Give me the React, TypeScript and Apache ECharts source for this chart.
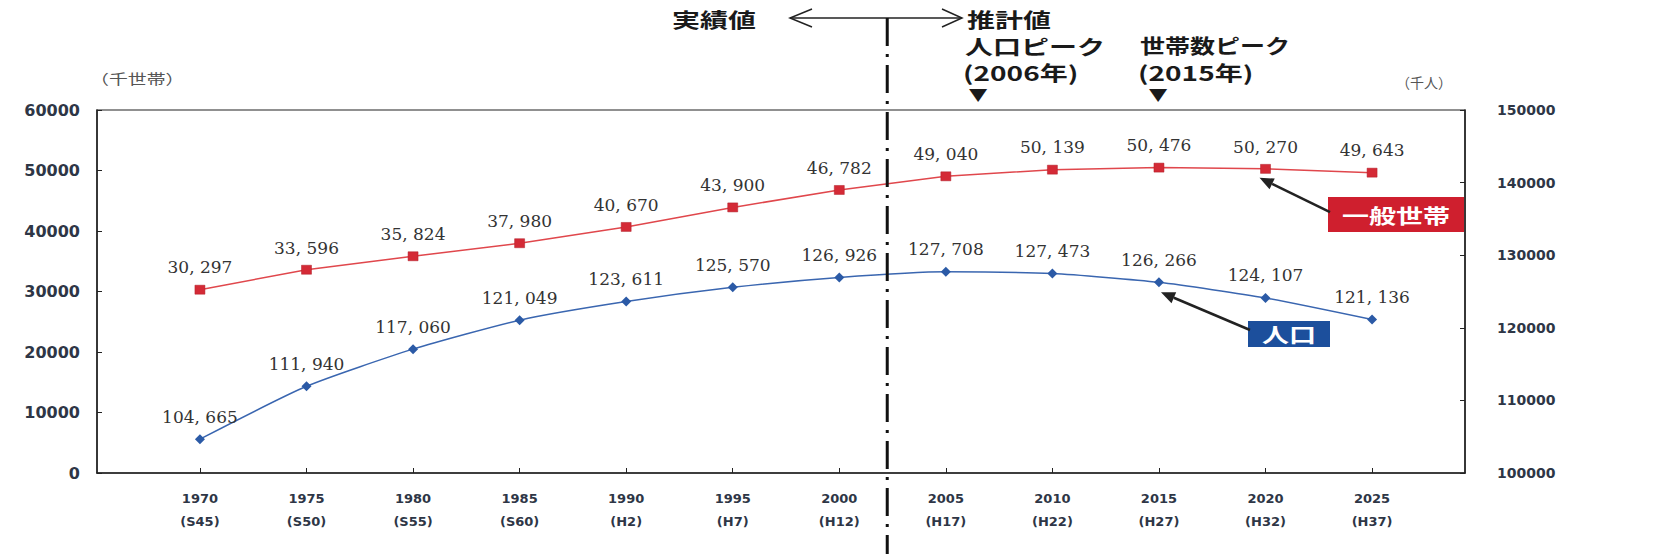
import React, { useEffect, useRef } from 'react';
import * as echarts from 'echarts';

const years = [1970, 1975, 1980, 1985, 1990, 1995, 2000, 2005, 2010, 2015, 2020, 2025];
const eraLabels = ['S45', 'S50', 'S55', 'S60', 'H2', 'H7', 'H12', 'H17', 'H22', 'H27', 'H32', 'H37'];
const households = [30297, 33596, 35824, 37980, 40670, 43900, 46782, 49040, 50139, 50476, 50270, 49643];
const population = [104665, 111940, 117060, 121049, 123611, 125570, 126926, 127708, 127473, 126266, 124107, 121136];
const leftAxisRange = { min: 0, max: 60000, interval: 10000 };
const rightAxisRange = { min: 100000, max: 150000, interval: 10000 };
const xRange = { min: 1965.17, max: 2029.36 };
const splitYear = 2002.25;

const CJK = '"Noto Sans CJK JP", "Noto Sans", sans-serif';
const AXIS_FONT = '"DejaVu Sans", Arial, sans-serif';
const SERIF = '"DejaVu Serif", "Liberation Serif", serif';

const fmt = (v: number) => `${Math.floor(v / 1000)}, ${String(v % 1000).padStart(3, '0')}`;

function arrow(tail: number[], tip: number[], color = '#222', headLen = 14, headW = 6) {
  const dx = tip[0] - tail[0];
  const dy = tip[1] - tail[1];
  const len = Math.sqrt(dx * dx + dy * dy);
  const ux = dx / len, uy = dy / len;
  const bx = tip[0] - ux * headLen, by = tip[1] - uy * headLen;
  const px = -uy, py = ux;
  return [
    { type: 'line', shape: { x1: tail[0], y1: tail[1], x2: bx, y2: by }, style: { stroke: color, lineWidth: 2.5 }, z: 100 },
    {
      type: 'polygon',
      shape: { points: [[tip[0], tip[1]], [bx + px * headW, by + py * headW], [bx - px * headW, by - py * headW]] },
      style: { fill: color }, z: 100,
    },
  ];
}

function txt(x: number, y: number, text: string, fontSize: number, opts: any = {}) {
  return {
    type: 'text', x, y, scaleX: opts.scaleX ?? 1.4, z: 100,
    style: {
      text, fontSize, fontWeight: opts.weight ?? 'bold', fontFamily: opts.family ?? CJK,
      fill: opts.fill ?? '#1a1a1a', textAlign: opts.align ?? 'left', textVerticalAlign: 'middle',
    },
  };
}

export default function App() {
  const ref = useRef<HTMLDivElement>(null);
  useEffect(() => {
    document.body.style.margin = '0';
    const chart = echarts.init(ref.current!, null, { renderer: 'svg' });
    const option: any = {
      animation: false,
      backgroundColor: '#ffffff',
      grid: { left: 97, right: 195, top: 110, bottom: 81, show: true, borderColor: '#222', borderWidth: 1.2, backgroundColor: 'transparent' },
      xAxis: {
        type: 'value', min: xRange.min, max: xRange.max,
        axisLine: { show: true, lineStyle: { color: '#222', width: 1.5 } },
        axisTick: { show: true, inside: true, length: 5, customValues: years, lineStyle: { color: '#222' } },
        splitLine: { show: false },
        axisLabel: {
          customValues: years, margin: 14, fontFamily: AXIS_FONT, fontWeight: 'bold', fontSize: 13, lineHeight: 23,
          color: '#2e3646',
          formatter: (v: number) => {
            const i = years.indexOf(Math.round(v));
            return i >= 0 ? `${years[i]}\n(${eraLabels[i]})` : '';
          },
        },
      },
      yAxis: [
        {
          type: 'value', position: 'left', ...leftAxisRange,
          axisLine: { show: true, lineStyle: { color: '#222', width: 1.5 } },
          axisTick: { show: true, inside: true, length: 5, lineStyle: { color: '#222' } },
          splitLine: { show: false },
          axisLabel: { margin: 17, fontFamily: AXIS_FONT, fontWeight: 'bold', fontSize: 16, color: '#2e3646', formatter: (v: number) => String(v) },
        },
        {
          type: 'value', position: 'right', ...rightAxisRange,
          axisLine: { show: true, lineStyle: { color: '#222', width: 1.5 } },
          axisTick: { show: true, inside: true, length: 5, lineStyle: { color: '#222' } },
          splitLine: { show: false },
          axisLabel: { margin: 32, fontFamily: AXIS_FONT, fontWeight: 'bold', fontSize: 14, color: '#2e3646', formatter: (v: number) => String(v) },
        },
      ],
      series: [
        {
          name: '一般世帯', type: 'line', yAxisIndex: 0,
          data: years.map((y, i) => [y, households[i]]),
          symbol: 'rect', symbolSize: [10, 9],
          lineStyle: { color: '#e0474c', width: 1.5 },
          itemStyle: { color: '#d42a36', borderColor: '#b01e28', borderWidth: 0.5 },
          label: {
            show: true, position: 'top', distance: 9, fontFamily: SERIF, fontSize: 17, color: '#333',
            formatter: (p: any) => fmt(p.value[1]),
          },
          z: 3,
        },
        {
          name: '人口', type: 'line', yAxisIndex: 1, smooth: 0.2,
          data: years.map((y, i) => [y, population[i]]),
          symbol: 'diamond', symbolSize: 10,
          lineStyle: { color: '#3a66b0', width: 1.5 },
          itemStyle: { color: '#2b5aa6' },
          label: {
            show: true, position: 'top', distance: 9, fontFamily: SERIF, fontSize: 17, color: '#333',
            formatter: (p: any) => fmt(p.value[1]),
          },
          z: 3,
        },
      ],
    };
    chart.setOption(option);

    const hIdx = years.indexOf(2020);
    const pIdx = years.indexOf(2015);
    const hPt = chart.convertToPixel({ seriesIndex: 0 }, [years[hIdx], households[hIdx]]) as number[];
    const pPt = chart.convertToPixel({ seriesIndex: 1 }, [years[pIdx], population[pIdx]]) as number[];
    const splitX = (chart.convertToPixel({ xAxisIndex: 0 }, splitYear) as number);

    const graphic: any[] = [
      txt(672, 19, '実績値', 20),
      txt(967, 19, '推計値', 20),
      { type: 'line', shape: { x1: 790, y1: 18, x2: 962, y2: 18 }, style: { stroke: '#222', lineWidth: 1.5 }, z: 100 },
      { type: 'polyline', shape: { points: [[812, 9], [790, 18], [812, 27]] }, style: { stroke: '#222', lineWidth: 1.5, fill: null }, z: 100 },
      { type: 'polyline', shape: { points: [[942, 9], [962, 18], [942, 27]] }, style: { stroke: '#222', lineWidth: 1.5, fill: null }, z: 100 },
      {
        type: 'line', shape: { x1: splitX, y1: 18, x2: splitX, y2: 554 },
        style: { stroke: '#111', lineWidth: 3, lineDash: [28, 8, 3, 8] }, z: 100,
      },
      txt(965, 46, '人口ピーク', 20),
      txt(963, 72, '(2006年)', 20),
      txt(978, 94, '▼', 16, { align: 'center', scaleX: 1.2 }),
      txt(1140, 46, '世帯数ピーク', 20, { scaleX: 1.25 }),
      txt(1138, 72, '(2015年)', 20),
      txt(1158, 94, '▼', 16, { align: 'center', scaleX: 1.2 }),
      txt(90, 78, '（千世帯）', 14, { weight: 'normal', fill: '#555', scaleX: 1.35 }),
      txt(1396, 82, '（千人）', 14, { weight: 'normal', fill: '#555', scaleX: 1.0 }),
      { type: 'rect', shape: { x: 1328, y: 197, width: 136, height: 35 }, style: { fill: '#cf1f2e' }, z: 100 },
      txt(1396, 215, '一般世帯', 20, { align: 'center', fill: '#ffffff', scaleX: 1.35 }),
      { type: 'rect', shape: { x: 1248, y: 321, width: 82, height: 26 }, style: { fill: '#1c4f9c' }, z: 100 },
      txt(1289, 334, '人口', 20, { align: 'center', fill: '#ffffff', scaleX: 1.35 }),
      ...arrow([1330, 212], [hPt[0] - 6, hPt[1] + 9]),
      ...arrow([1250, 330], [pPt[0] + 2, pPt[1] + 10]),
    ];
    chart.setOption({ graphic });
    return () => chart.dispose();
  }, []);
  return <div ref={ref} style={{ width: 1660, height: 554 }} />;
}
